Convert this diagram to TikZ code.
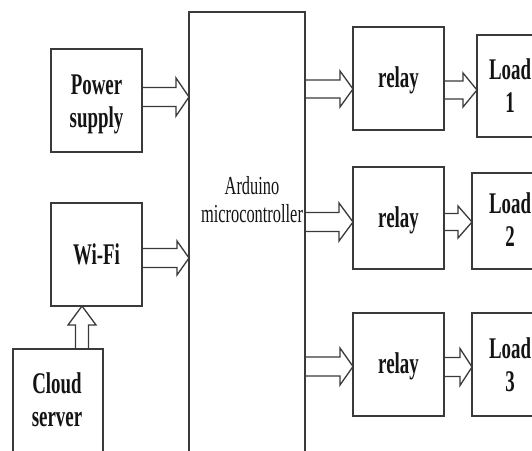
\documentclass[tikz,border=0pt]{standalone}
\usepackage{fontspec}
\newfontfamily\cond[FakeStretch=0.63]{Liberation Serif}
\usetikzlibrary{calc}
\definecolor{ln}{HTML}{3A3A3A}
\definecolor{tx}{HTML}{141414}
\tikzset{
  box/.style={draw=ln, line width=1.6pt, rectangle, inner sep=0pt, outer sep=0pt, anchor=north west},
  lbl/.style={text=tx, inner sep=0pt, align=center, font=\cond\bfseries\fontsize{30}{33}\selectfont},
  plain/.style={text=tx, inner sep=0pt, align=center, font=\cond\fontsize{26}{28}\selectfont},
  arr/.style={draw=ln, line width=1.3pt, line join=miter},
}
% horizontal hollow arrow: from node #1 (east) to node #2 (west) at level of coordinate #3,
% shaft half width #4, head half width #5, head length #6
\newcommand\hollowarrow[6]{%
  \draw[arr] ($(#1.east |- #3)+(0,-#4)$) -- ($(#2.west |- #3)+(-#6,-#4)$) -- ($(#2.west |- #3)+(-#6,-#5)$)
    -- (#2.west |- #3) -- ($(#2.west |- #3)+(-#6,#5)$) -- ($(#2.west |- #3)+(-#6,#4)$) -- ($(#1.east |- #3)+(0,#4)$);}
\begin{document}
\begin{tikzpicture}[x=1pt,y=-1pt]
\clip (0,0) rectangle (532,450);
\fill[white] (0,0) rectangle (532,450);

% boxes
\node[box, minimum width=91pt, minimum height=103pt] (ps) at (51,49) {};
\node[box, minimum width=91pt, minimum height=103pt] (wifi) at (51,203) {};
\node[box, minimum width=90pt, minimum height=130pt] (cloud) at (13,349) {};
\node[box, minimum width=116pt, minimum height=470pt] (ard) at (189,12) {};
\node[box, minimum width=91pt, minimum height=103pt] (r1) at (353,27) {};
\node[box, minimum width=91pt, minimum height=102pt] (r2) at (353,167) {};
\node[box, minimum width=91pt, minimum height=103pt] (r3) at (353,313) {};
\node[box, minimum width=100pt, minimum height=102pt] (l1) at (477,35) {};
\node[box, minimum width=100pt, minimum height=96pt] (l2) at (472,173) {};
\node[box, minimum width=100pt, minimum height=103pt] (l3) at (472,313) {};

% labels
\node[lbl] (pst) at ($(ps.center)+(0,4)$) {Power\\supply};
\node[lbl] (wifit) at (wifi.center) {Wi-Fi};
\node[lbl] (cloudt) at (57,400) {Cloud\\server};
\node[plain] (ardt) at (252,200) {Arduino\\microcontroller};
\node[lbl] (r1t) at ($(r1.center)+(0,2)$) {relay};
\node[lbl] (r2t) at ($(r2.center)+(0,2)$) {relay};
\node[lbl] (r3t) at ($(r3.center)+(0,2)$) {relay};
\node[lbl] (l1t) at (510,86) {Load\\1};
\node[lbl] (l2t) at (510,220) {Load\\2};
\node[lbl] (l3t) at (510,364.5) {Load\\3};

% arrow levels
\coordinate (yps) at (0,97);
\coordinate (ywf) at (0,258);
\coordinate (ya1) at (0,89);
\coordinate (ya2) at (0,222);
\coordinate (ya3) at (0,366.5);
\coordinate (yb1) at (0,90);
\coordinate (yb2) at (0,222);
\coordinate (yb3) at (0,367);
\coordinate (xc) at (82,0);

% arrows
\hollowarrow{ps}{ard}{yps}{9.5}{19}{13}
\hollowarrow{wifi}{ard}{ywf}{9.5}{17}{12}
\hollowarrow{ard}{r1}{ya1}{9}{18}{13}
\hollowarrow{ard}{r2}{ya2}{9.5}{19}{14}
\hollowarrow{ard}{r3}{ya3}{9.5}{18.5}{13}
\hollowarrow{r1}{l1}{yb1}{9}{17}{14}
\hollowarrow{r2}{l2}{yb2}{8.5}{16}{14}
\hollowarrow{r3}{l3}{yb3}{9.5}{18.5}{12}

% cloud -> wifi (vertical)
\draw[arr] ($(cloud.north -| xc)+(-6.5,0)$) -- ($(wifi.south -| xc)+(-6.5,19)$) -- ($(wifi.south -| xc)+(-14,19)$)
  -- (wifi.south -| xc) -- ($(wifi.south -| xc)+(14,19)$) -- ($(wifi.south -| xc)+(6.5,19)$) -- ($(cloud.north -| xc)+(6.5,0)$);
\end{tikzpicture}
\end{document}
